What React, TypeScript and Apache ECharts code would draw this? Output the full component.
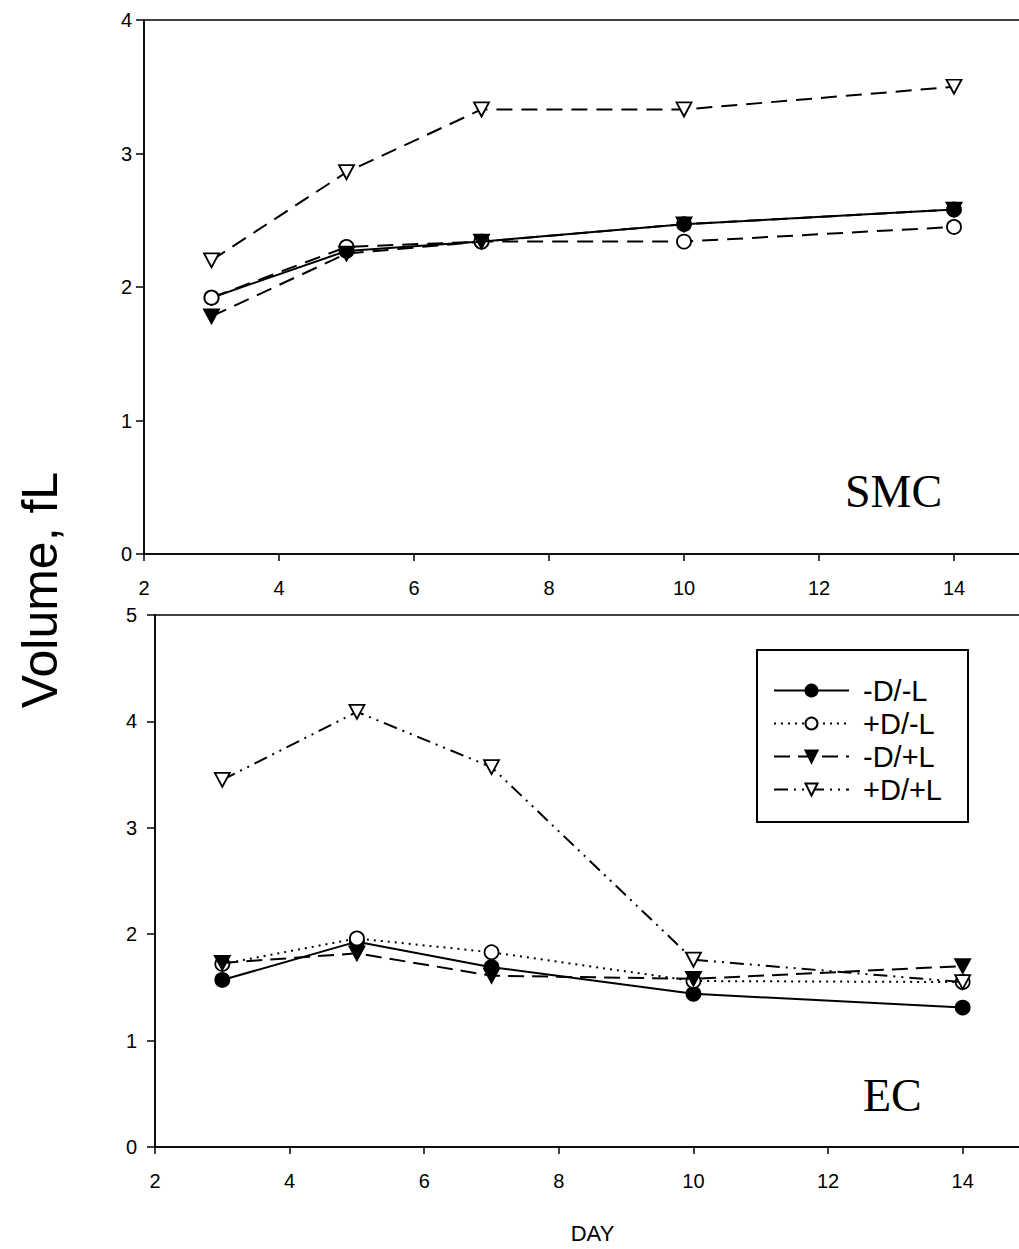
import React, { useEffect, useRef } from "react";
import * as echarts from "echarts";

const days = [3, 5, 7, 10, 14];
const seriesNames = ["-D/-L", "+D/-L", "-D/+L", "+D/+L"];

// SMC panel (top)
const smcA = [1.92, 2.27, 2.34, 2.47, 2.58];
const smcB = [1.92, 2.3, 2.34, 2.34, 2.45];
const smcC = [1.78, 2.25, 2.34, 2.47, 2.58];
const smcD = [2.2, 2.86, 3.33, 3.33, 3.5];

// EC panel (bottom)
const ecA = [1.57, 1.93, 1.69, 1.44, 1.31];
const ecB = [1.72, 1.96, 1.83, 1.56, 1.55];
const ecC = [1.73, 1.82, 1.61, 1.58, 1.7];
const ecD = [3.45, 4.09, 3.57, 1.76, 1.55];

const xTicks = [2, 4, 6, 8, 10, 12, 14];

const FONT = "'Liberation Sans', Arial, sans-serif";
const TRI_DOWN = "path://M0,0 L10,0 L5,9 Z";

const markers = [
  { symbol: "circle", fill: "#000" },
  { symbol: "circle", fill: "#fff" },
  { symbol: TRI_DOWN, fill: "#000" },
  { symbol: TRI_DOWN, fill: "#fff" },
];

const ecDash: any[] = ["solid", [2, 5], [16, 8], [14, 6, 2, 6, 2, 6]];
const smcDash: any[] = ["solid", [16, 9], [16, 9], [16, 9]];

function pairs(vals: number[]) {
  return days.map((d, i) => [d, vals[i]]);
}

export default function App() {
  const ref = useRef<HTMLDivElement>(null);
  useEffect(() => {
    if (!ref.current) return;
    const chart = echarts.init(ref.current, undefined, { renderer: "svg" });
    const ecVals = [ecA, ecB, ecC, ecD];
    const smcVals = [smcA, smcB, smcC, smcD];
    const mk = (idx: number, vals: number[], dash: any, gi: number) => ({
      name: seriesNames[idx],
      type: "line",
      xAxisIndex: gi,
      yAxisIndex: gi,
      data: pairs(vals),
      symbol: markers[idx].symbol,
      symbolSize: idx >= 2 ? [15, 14] : 14,
      lineStyle: { color: "#000", width: 2, type: dash },
      itemStyle: { color: markers[idx].fill, borderColor: "#000", borderWidth: 1.8 },
      z: 3 + idx,
    });
    const series: any[] = [];
    for (let i = 0; i < 4; i++) series.push(mk(i, ecVals[i], ecDash[i], 1));
    for (let i = 0; i < 4; i++) series.push(mk(i, smcVals[i], smcDash[i], 0));

    const xAxisBase = (gi: number) => ({
      type: "value",
      gridIndex: gi,
      min: 2,
      max: 15,
      interval: 2,
      axisLine: { show: true, onZero: false, lineStyle: { color: "#000", width: 1.5 } },
      axisTick: { show: true, inside: false, length: 7, lineStyle: { color: "#000", width: 1.5 } },
      axisLabel: {
        color: "#000",
        fontSize: 20,
        fontFamily: FONT,
        margin: 24,
        formatter: (v: number) => (xTicks.indexOf(v) >= 0 ? String(v) : ""),
      },
      splitLine: { show: false },
    });
    const yAxisBase = (gi: number, max: number, margin: number) => ({
      type: "value",
      gridIndex: gi,
      min: 0,
      max,
      interval: 1,
      axisLine: { show: true, lineStyle: { color: "#000", width: 1.5 } },
      axisTick: { show: true, inside: false, length: 8, lineStyle: { color: "#000", width: 1.5 } },
      axisLabel: { color: "#000", fontSize: 20, fontFamily: FONT, margin },
      splitLine: { show: false },
    });

    chart.setOption({
      animation: false,
      backgroundColor: "#fff",
      grid: [
        {
          left: 144, top: 20, width: 877.5, height: 534, show: true,
          borderColor: "#000", borderWidth: 1.5, backgroundColor: "transparent",
          outerBoundsMode: "none", containLabel: false,
        },
        {
          left: 155, top: 615, width: 875, height: 532, show: true,
          borderColor: "#000", borderWidth: 1.5, backgroundColor: "transparent",
          outerBoundsMode: "none", containLabel: false,
        },
      ],
      xAxis: [
        xAxisBase(0),
        {
          ...xAxisBase(1),
          name: "DAY",
          nameLocation: "middle",
          nameGap: 75,
          nameTextStyle: { color: "#000", fontSize: 22, fontFamily: FONT },
        },
      ],
      yAxis: [yAxisBase(0, 4, 12), yAxisBase(1, 5, 18)],
      legend: {
        data: seriesNames,
        orient: "vertical",
        left: 757,
        top: 650,
        itemWidth: 75,
        itemHeight: 15,
        itemGap: 4,
        padding: [26, 26, 18, 16],
        borderColor: "#000",
        borderWidth: 2,
        backgroundColor: "#fff",
        textStyle: { color: "#000", fontSize: 29, fontFamily: FONT, lineHeight: 24, padding: [0, 0, 0, 9] },
        selectedMode: false,
      },
      graphic: [
        {
          type: "text",
          left: 845,
          top: 468,
          style: { text: "SMC", font: "46px 'Liberation Serif', 'Times New Roman', serif", fill: "#000" },
        },
        {
          type: "text",
          left: 863,
          top: 1072,
          style: { text: "EC", font: "46px 'Liberation Serif', 'Times New Roman', serif", fill: "#000" },
        },
        {
          type: "text",
          x: 40,
          y: 590,
          rotation: Math.PI / 2,
          style: {
            text: "Volume, fL",
            font: "50px 'Liberation Sans', Arial, sans-serif",
            fill: "#000",
            align: "center",
            verticalAlign: "middle",
          },
        },
      ],
      series,
    });
    return () => chart.dispose();
  }, []);
  return (
    <div
      ref={ref}
      style={{ position: "absolute", left: 0, top: 0, width: 1019, height: 1249, background: "#fff" }}
    />
  );
}
